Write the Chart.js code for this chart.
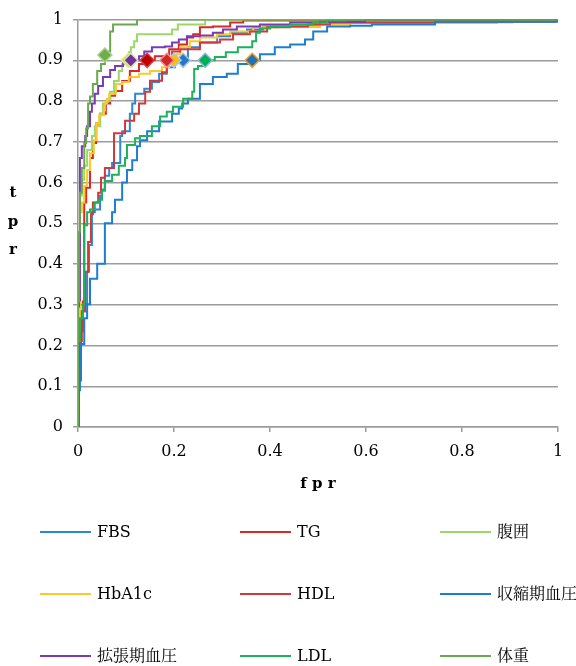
<!DOCTYPE html>
<html><head><meta charset="utf-8">
<script src="https://cdn.jsdelivr.net/npm/chart.js@4.4.0/dist/chart.umd.min.js"></script>
<style>html,body{margin:0;padding:0;background:#fff}#wrap{width:576px;height:666px;position:relative}</style>
</head><body><div id="wrap"><canvas id="c"></canvas></div>
<script>
// ---------- DATA ----------
const seriesNames = ['FBS','TG','腹囲','HbA1c','HDL','収縮期血圧','拡張期血圧','LDL','体重'];

const fbsFpr = [0,0,0.002,0.004,0.008,0.015,0.019,0.023,0.029,0.035,0.046,0.050,0.056,0.065,0.071,0.088,0.088,0.092,0.108,0.113,0.119,0.138,0.154,0.169,0.185,0.202,0.219,0.229,0.229,0.254,0.290,0.317,0.352,0.385,0.504,0.873,0.873,1];
const fbsTpr = [0,0.066,0.163,0.235,0.284,0.301,0.381,0.447,0.527,0.534,0.568,0.583,0.617,0.636,0.648,0.655,0.714,0.726,0.769,0.794,0.818,0.830,0.847,0.867,0.883,0.896,0.9,0.903,0.932,0.944,0.959,0.968,0.976,0.983,0.993,0.998,1,1];

const tgFpr = [0,0.002,0.006,0.010,0.013,0.013,0.017,0.025,0.031,0.038,0.046,0.058,0.067,0.077,0.092,0.108,0.127,0.144,0.160,0.190,0.210,0.227,0.240,0.254,0.281,0.317,0.344,0.740,0.740,1];
const tgTpr = [0,0.114,0.235,0.308,0.340,0.551,0.587,0.660,0.697,0.745,0.769,0.794,0.813,0.825,0.849,0.874,0.891,0.9,0.910,0.927,0.939,0.956,0.964,0.981,0.983,0.993,0.998,0.998,1,1];

const waistFpr = [0,0,0.002,0.004,0.004,0.008,0.013,0.019,0.029,0.035,0.046,0.052,0.060,0.067,0.075,0.085,0.092,0.100,0.106,0.110,0.117,0.123,0.196,0.196,0.208,0.265,0.265,1];
const waistTpr = [0,0.235,0.308,0.454,0.568,0.607,0.641,0.680,0.714,0.738,0.769,0.794,0.801,0.823,0.849,0.874,0.891,0.9,0.920,0.932,0.947,0.964,0.964,0.976,0.988,0.988,1,1];

const hba1cFpr = [0,0,0.004,0.004,0.008,0.013,0.019,0.025,0.033,0.038,0.044,0.054,0.056,0.060,0.065,0.079,0.092,0.106,0.127,0.150,0.175,0.190,0.2,0.206,0.213,0.233,0.254,0.290,0.317,0.365,0.415,0.504,0.567,0.906,0.906,1];
const hba1cTpr = [0,0.235,0.333,0.527,0.551,0.592,0.631,0.672,0.704,0.745,0.765,0.777,0.794,0.806,0.818,0.842,0.847,0.859,0.867,0.874,0.883,0.891,0.9,0.915,0.932,0.947,0.956,0.964,0.971,0.981,0.983,0.988,0.993,0.993,1,1];

const hdlFpr = [0,0.002,0.004,0.008,0.015,0.021,0.027,0.031,0.042,0.048,0.056,0.075,0.075,0.098,0.117,0.127,0.140,0.150,0.175,0.185,0.196,0.213,0.254,0.296,0.323,0.358,0.394,0.442,0.479,0.525,0.744,0.994,0.994,1];
const hdlTpr = [0,0.138,0.211,0.284,0.381,0.454,0.522,0.551,0.575,0.612,0.636,0.648,0.721,0.752,0.769,0.794,0.823,0.850,0.871,0.9,0.922,0.927,0.944,0.951,0.964,0.971,0.981,0.983,0.988,0.993,0.995,0.998,1,1];

const sbpFpr = [0,0.002,0.004,0.006,0.013,0.019,0.025,0.040,0.056,0.071,0.077,0.092,0.102,0.113,0.123,0.129,0.144,0.169,0.196,0.210,0.217,0.229,0.254,0.281,0.310,0.333,0.363,0.379,0.410,0.442,0.473,0.490,0.519,0.567,0.612,0.744,0.998,0.998,1];
const sbpTpr = [0,0.090,0.150,0.204,0.267,0.301,0.364,0.401,0.500,0.527,0.558,0.600,0.631,0.655,0.689,0.704,0.726,0.750,0.769,0.782,0.794,0.806,0.842,0.859,0.867,0.891,0.9,0.915,0.932,0.939,0.951,0.971,0.983,0.985,0.988,0.995,0.998,1,1];

const dbpFpr = [0,0,0.002,0.004,0.004,0.008,0.015,0.019,0.025,0.029,0.035,0.042,0.052,0.067,0.077,0.094,0.110,0.127,0.138,0.154,0.181,0.196,0.210,0.227,0.254,0.281,0.302,0.331,0.379,0.442,0.504,0.598,0.598,1];
const dbpTpr = [0,0.296,0.311,0.393,0.660,0.689,0.714,0.738,0.774,0.794,0.818,0.837,0.859,0.876,0.886,0.896,0.9,0.910,0.922,0.932,0.934,0.944,0.951,0.959,0.961,0.968,0.976,0.983,0.988,0.993,0.995,0.998,1,1];

const ldlFpr = [0,0,0.004,0.010,0.013,0.019,0.025,0.035,0.044,0.050,0.056,0.071,0.085,0.098,0.102,0.119,0.129,0.154,0.171,0.185,0.198,0.219,0.238,0.242,0.250,0.265,0.285,0.308,0.333,0.363,0.371,0.379,0.400,0.442,0.490,0.519,0.556,1];
const ldlTpr = [0,0.211,0.267,0.301,0.495,0.527,0.534,0.551,0.558,0.580,0.604,0.619,0.641,0.660,0.692,0.709,0.714,0.738,0.762,0.774,0.786,0.806,0.823,0.879,0.886,0.9,0.908,0.920,0.932,0.947,0.968,0.978,0.983,0.988,0.993,0.998,1,1];

const weightFpr = [0,0,0.002,0.004,0.008,0.013,0.017,0.021,0.025,0.031,0.040,0.048,0.056,0.063,0.067,0.073,0.123,1];
const weightTpr = [0,0.308,0.478,0.575,0.636,0.697,0.733,0.794,0.811,0.842,0.874,0.891,0.913,0.922,0.971,0.988,1,1];

const markerFpr = [0.219,0.144,0.105,0.200,0.185,0.363,0.110,0.265,0.056];
const markerTpr = [0.9,0.9,0.9,0.9,0.9,0.9,0.9,0.9,0.913];

const xTickLabels = ['0','0.2','0.4','0.6','0.8','1'];
const yTickLabels = ['0','0.1','0.2','0.3','0.4','0.5','0.6','0.7','0.8','0.9','1'];
const xTitle = 'f p r';
const yTitleChars = ['t','p','r'];

// ---------- STYLE ----------
const seriesFpr = [fbsFpr,tgFpr,waistFpr,hba1cFpr,hdlFpr,sbpFpr,dbpFpr,ldlFpr,weightFpr];
const seriesTpr = [fbsTpr,tgTpr,waistTpr,hba1cTpr,hdlTpr,sbpTpr,dbpTpr,ldlTpr,weightTpr];
const lineColors = ['#2e86d6','#d42a2a','#9fd66a','#ffc72c','#cf3b3b','#1d7dd0','#7a3ab8','#1cb15a','#6aa84f'];
const markerFill = ['#2577c8','#c00000','#92d050','#ffc000','#d02828','#2470bd','#7030a0','#00b050','#70ad47'];
const markerBorder = ['#a9bfdc','#d04040','#f0e090','#a8c8ec','#f09090','#f0a020','#d6e6a0','#8eb4e3','#a9d08e'];
const serif = '"DejaVu Serif", "Noto Serif CJK JP", "Noto Sans CJK JP", serif';
const gridColor = '#9c9c9c';

const datasets = [];
seriesNames.forEach((name, i) => {
  datasets.push({
    label: name,
    data: seriesFpr[i].map((x, k) => ({x: x, y: seriesTpr[i][k]})),
    borderColor: lineColors[i], backgroundColor: lineColors[i],
    borderWidth: 2, pointRadius: 0, pointHoverRadius: 0,
    stepped: true, fill: false, tension: 0, order: 20 - i
  });
});
seriesNames.forEach((name, i) => {
  datasets.push({
    label: name + '_marker',
    data: [{x: markerFpr[i], y: markerTpr[i]}],
    showLine: false, pointStyle: 'rectRot', pointRadius: 7, pointHoverRadius: 7,
    pointBackgroundColor: markerFill[i], pointBorderColor: markerBorder[i], pointBorderWidth: 1.5,
    order: 10 - i
  });
});

const extrasPlugin = {
  id: 'extras',
  afterDraw(chart) {
    const ctx = chart.ctx;
    ctx.save();
    ctx.fillStyle = '#000';
    ctx.font = 'bold 15px ' + serif;
    ctx.textAlign = 'center';
    ctx.textBaseline = 'alphabetic';
    const yBase = [197, 226, 254];
    yTitleChars.forEach((ch, k) => ctx.fillText(ch, 13, yBase[k]));
    const colX = [40, 240, 440], rowY = [532, 594, 656];
    ctx.font = '16px ' + serif;
    ctx.textAlign = 'left';
    ctx.textBaseline = 'middle';
    seriesNames.forEach((name, i) => {
      const x = colX[i % 3], y = rowY[Math.floor(i / 3)];
      ctx.strokeStyle = lineColors[i];
      ctx.lineWidth = 2;
      ctx.beginPath(); ctx.moveTo(x, y); ctx.lineTo(x + 51, y); ctx.stroke();
      ctx.fillStyle = '#000';
      ctx.fillText(name, x + 57, y + 1);
    });
    ctx.restore();
  }
};

new Chart(document.getElementById('c'), {
  type: 'line',
  data: { datasets: datasets },
  plugins: [extrasPlugin],
  options: {
    responsive: true, maintainAspectRatio: false, animation: false,
    events: [],
    layout: { padding: { left: 0, right: 18, top: 15, bottom: 169 } },
    plugins: { legend: { display: false }, tooltip: { enabled: false } },
    scales: {
      x: {
        type: 'linear', min: 0, max: 1,
        ticks: { stepSize: 0.2, maxRotation: 0, padding: 10, color: '#000',
          font: { family: serif, size: 16 },
          callback: (v, i) => xTickLabels[i] },
        grid: { drawOnChartArea: false, drawTicks: true, tickLength: 5, color: gridColor, lineWidth: 1.5 },
        border: { display: true, color: gridColor, width: 1.5 },
        title: { display: true, text: xTitle, color: '#000', padding: { top: 4, bottom: 4 },
          font: { family: serif, size: 15, weight: 'bold' } },
        afterFit: s => { s.height = 70; }
      },
      y: {
        type: 'linear', min: 0, max: 1,
        ticks: { stepSize: 0.1, padding: 10, color: '#000',
          font: { family: serif, size: 16 },
          callback: (v, i) => yTickLabels[i] },
        grid: { color: gridColor, lineWidth: 1.5, tickLength: 5 },
        border: { display: true, color: gridColor, width: 1.5 },
        afterFit: s => { s.width = 78; }
      }
    }
  }
});
</script>
</body></html>
